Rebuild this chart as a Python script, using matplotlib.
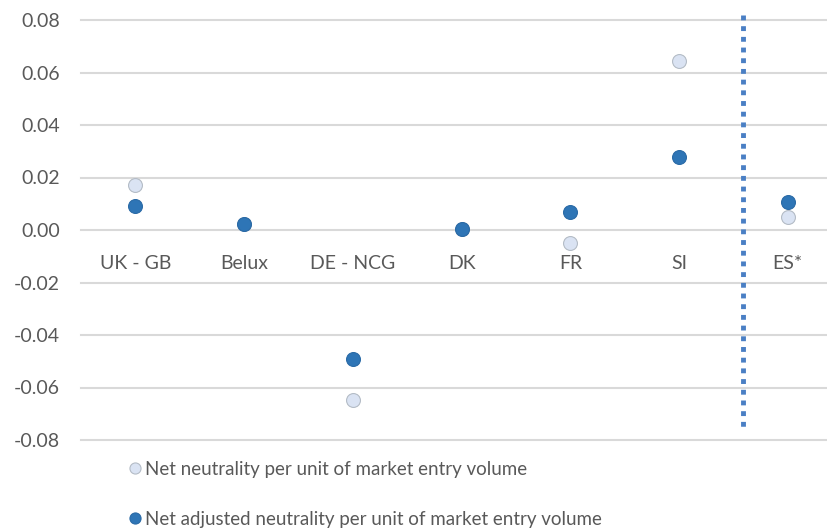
import numpy as np
import matplotlib
matplotlib.use("Agg")
import matplotlib.pyplot as plt

plt.rcParams["font.family"] = ["Lato", "DejaVu Sans"]

categories = ["UK - GB", "Belux", "DE - NCG", "DK", "FR", "SI", "ES*"]
net_neutrality = [0.0170, 0.0021, -0.0648, 0.0003, -0.0048, 0.0642, 0.0051]
net_adjusted = [0.0093, 0.0021, -0.0490, 0.0003, 0.0070, 0.0280, 0.0105]
yticks = [-0.08, -0.06, -0.04, -0.02, 0.00, 0.02, 0.04, 0.06, 0.08]

light = "#dae3f3"
dark = "#2e75b6"
text_col = "#595959"

fig = plt.figure(figsize=(8.27, 5.29), dpi=100)
ax = fig.add_axes([81 / 827, 1 - 440 / 529, 1 - 81 / 827, 420 / 529])

x = np.arange(len(categories))
ax.plot(x, net_neutrality, linestyle="none", marker="o", markersize=10,
        markerfacecolor=light, markeredgecolor="#b4bcc6", markeredgewidth=0.8,
        label="Net neutrality per unit of market entry volume", zorder=3)
ax.plot(x, net_adjusted, linestyle="none", marker="o", markersize=10,
        markerfacecolor=dark, markeredgecolor="#2a6aa6", markeredgewidth=0.8,
        label="Net adjusted neutrality per unit of market entry volume", zorder=4)

# dotted separator between SI and ES*
ax.plot([5.59, 5.59], [0.082, -0.076], linestyle=(0, (1, 1.2)), color="#4a7fc4",
        linewidth=3.5, clip_on=False, zorder=2)

ax.set_xlim(-0.5, 6.36)
ax.set_ylim(-0.08, 0.08)
ax.set_yticks(yticks)
ax.set_yticklabels([f"{v:.2f}" for v in yticks])
ax.yaxis.grid(True, color="#d9d9d9", linewidth=1.5)
for gl in ax.yaxis.get_gridlines():
    gl.set_clip_on(False)
ax.set_axisbelow(True)

ax.set_xticks(x)
ax.set_xticklabels(categories)
ax.spines["bottom"].set_position(("data", 0))
for s in ax.spines.values():
    s.set_visible(False)
ax.tick_params(axis="x", length=0, pad=18, labelsize=14, labelcolor=text_col)
ax.tick_params(axis="y", length=0, pad=15, labelsize=14, labelcolor=text_col)

fig.legend(loc="upper left", bbox_to_anchor=(130 / 827, 1 - 461 / 529),
           frameon=False, fontsize=13.5, labelcolor=text_col,
           handlelength=0.5, handletextpad=0.3, labelspacing=1.75,
           borderaxespad=0, borderpad=0, markerscale=0.8)

fig.savefig("out.png", dpi=100)
